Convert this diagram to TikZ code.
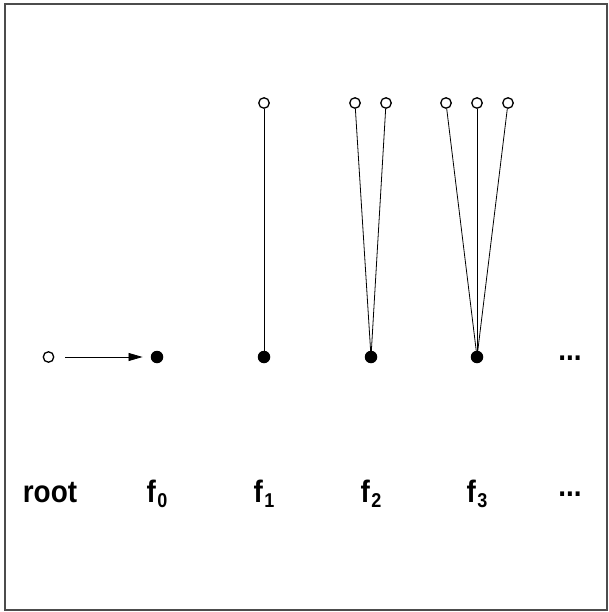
\documentclass[tikz,border=0pt]{standalone}
\usepackage{fontspec}
\setmainfont{Liberation Sans}
\usetikzlibrary{arrows.meta}
% narrow bold label text
\newcommand{\lbltext}[1]{\scalebox{0.9}[1]{\bfseries\fontsize{31}{31}\selectfont #1}}
\newcommand{\fsub}[1]{\lbltext{f}\hspace{1.5pt}\raisebox{-5pt}{\scalebox{0.9}[1]{\bfseries\fontsize{20}{20}\selectfont #1}}}
\begin{document}
\begin{tikzpicture}[x=1pt,y=-1pt,
  open/.style={circle,draw,line width=1.3pt,fill=white,minimum size=10.5pt,inner sep=0pt},
  full/.style={circle,fill=black,minimum size=12.5pt,inner sep=0pt},
  edge/.style={line width=0.8pt},
  lbl/.style={inner sep=0pt,anchor=base}]
  \useasboundingbox (0,0) rectangle (608,612);
  \draw[line width=1.4pt,gray!60!black] (5,4) rectangle (607,610);
  % root and first node
  \node[open] (r) at (48.5,357) {};
  \node[full] (d0) at (157,357) {};
  \draw[edge,shorten <=11pt,shorten >=8pt,-{Triangle[length=14pt,width=8pt]}] (r) -- (d0);
  % f1
  \node[full] (d1) at (264,357) {};
  \node[open] (a1) at (264,103) {};
  \draw[edge] (d1) -- (a1);
  % f2
  \node[full] (d2) at (371,357) {};
  \node[open] (b1) at (355,103) {};
  \node[open] (b2) at (386,103) {};
  \draw[edge] (d2.center) -- (b1);
  \draw[edge] (d2.center) -- (b2);
  % f3
  \node[full] (d3) at (477,357) {};
  \node[open] (c1) at (446,103) {};
  \node[open] (c2) at (477,103) {};
  \node[open] (c3) at (508,103) {};
  \draw[edge] (d3.center) -- (c1);
  \draw[edge] (d3.center) -- (c2);
  \draw[edge] (d3.center) -- (c3);
  \node[lbl] (dots1) at (570,360) {\lbltext{...}};
  % labels
  \node[lbl] (l0) at (50,502) {\lbltext{root}};
  \node[lbl] (l1) at (157,502) {\fsub{0}};
  \node[lbl] (l2) at (264,502) {\fsub{1}};
  \node[lbl] (l3) at (371,502) {\fsub{2}};
  \node[lbl] (l4) at (477,502) {\fsub{3}};
  \node[lbl] (l5) at (570,496) {\lbltext{...}};
\end{tikzpicture}
\end{document}
